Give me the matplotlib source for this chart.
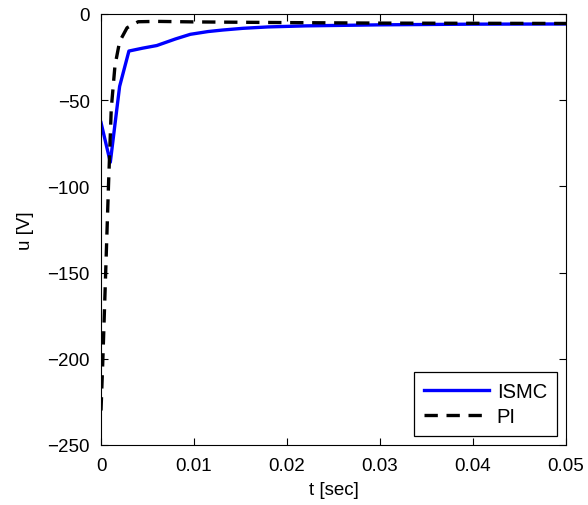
import matplotlib
matplotlib.use("Agg")
import matplotlib.pyplot as plt

plt.rcParams['font.family'] = ['Liberation Sans', 'DejaVu Sans']

# ISMC control signal
t_ismc = [0, 0.001, 0.002, 0.003, 0.0045, 0.006, 0.008, 0.0096, 0.0115, 0.0131, 0.0153, 0.018, 0.022, 0.03, 0.04, 0.05]
u_ismc = [-63, -86, -42, -21.5, -19.8, -18.3, -14.5, -11.8, -10.2, -9.3, -8.3, -7.5, -6.9, -6.3, -5.9, -5.8]

# PI control signal
t_pi = [0, 0.0002, 0.0005, 0.0008, 0.0011, 0.0015, 0.002, 0.0028, 0.004, 0.006, 0.01, 0.02, 0.03, 0.05]
u_pi = [-230, -200, -150, -100, -55, -30, -16, -8, -4.5, -4.3, -4.6, -5.0, -5.3, -5.5]

fig = plt.figure(figsize=(5.88, 5.06), dpi=100)
ax = fig.add_axes([0.1718, 0.1186, 0.7908, 0.8518])

ax.plot(t_ismc, u_ismc, color='#0000ff', linewidth=2.4, label='ISMC')
ax.plot(t_pi, u_pi, color='black', linewidth=2.4, linestyle='--', dashes=(4, 2.6), label='PI')

ax.set_xlim(0, 0.05)
ax.set_ylim(-250, 0)
ax.set_xticks([0, 0.01, 0.02, 0.03, 0.04, 0.05])
ax.set_xticklabels(['0', '0.01', '0.02', '0.03', '0.04', '0.05'])
ax.set_yticks([-250, -200, -150, -100, -50, 0])
ax.set_yticklabels(['\u2212250', '\u2212200', '\u2212150', '\u2212100', '\u221250', '0'])
ax.tick_params(direction='in', top=True, right=True, labelsize=13.5, length=5, width=0.8)
ax.tick_params(axis='x', pad=9)
ax.tick_params(axis='y', pad=8)
ax.set_xlabel('t [sec]', fontsize=13.5, labelpad=5)
ax.set_ylabel('u [V]', fontsize=13.5, labelpad=10)

leg = ax.legend(loc='lower right', fontsize=14.5, fancybox=False, framealpha=1,
                edgecolor='black', handlelength=3.2, handletextpad=0.4,
                borderaxespad=0.45, borderpad=0.5, labelspacing=0.3)
leg.get_frame().set_linewidth(0.9)

fig.savefig('out.png', dpi=100)
